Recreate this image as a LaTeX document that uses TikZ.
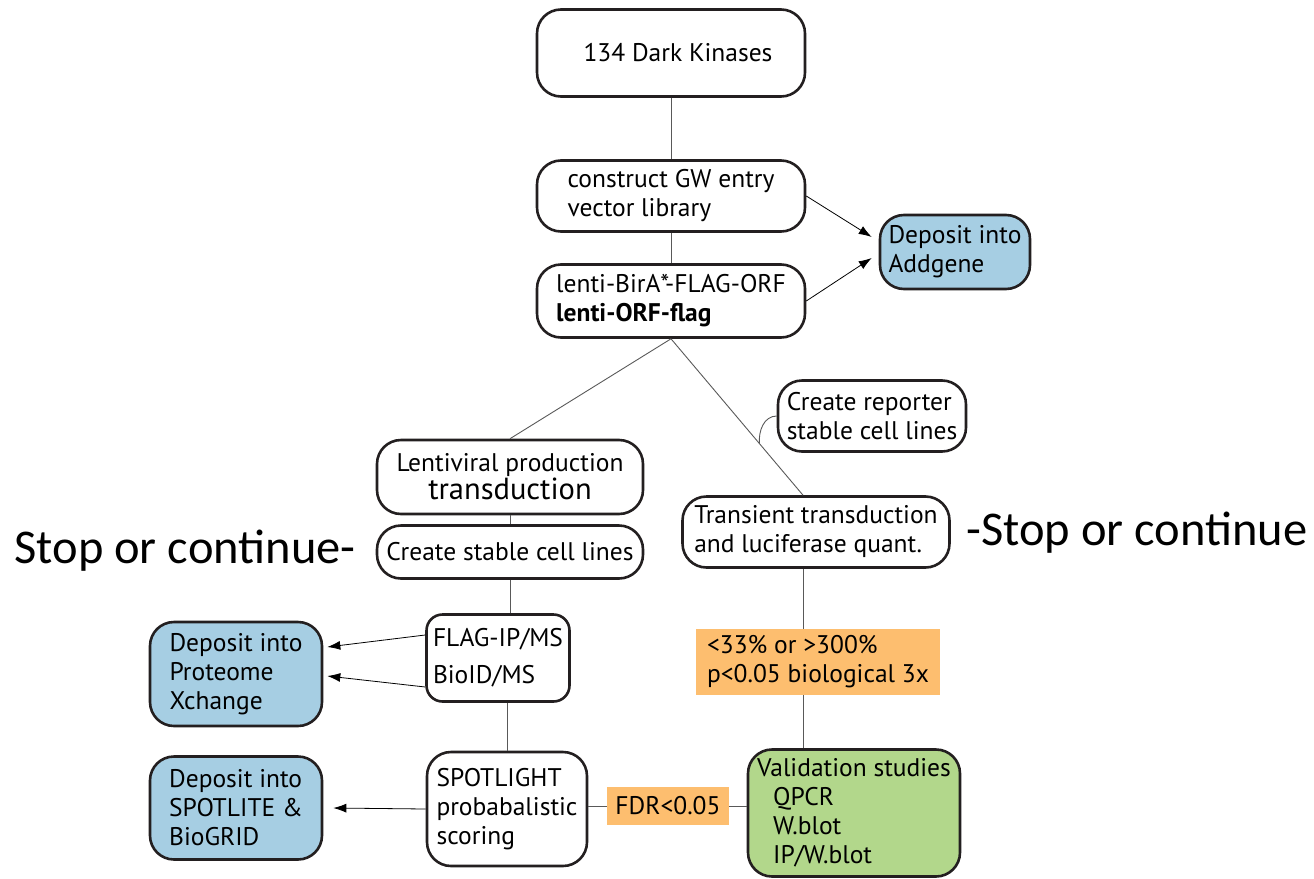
\documentclass[tikz,border=0pt]{standalone}
\usepackage{fontspec}
\setmainfont{PT Sans}
\newfontfamily\calibri{Carlito}
\usepackage{tikz}
\usetikzlibrary{calc,arrows.meta}

\definecolor{depblue}{RGB}{166,206,227}
\definecolor{filtorange}{RGB}{253,190,111}
\definecolor{valgreen}{RGB}{178,215,139}
\definecolor{boxline}{RGB}{35,31,32}

\begin{document}
\begin{tikzpicture}[x=1pt, y=-1pt,
    stepbox/.style={draw=boxline, line width=2.6pt, rounded corners=24pt, fill=white,
                    align=left, inner sep=0pt, font=\fontsize{25.5}{29}\selectfont},
    depbox/.style={stepbox, fill=depblue},
    filtbox/.style={fill=filtorange, align=left, inner sep=0pt, font=\fontsize{25.5}{29}\selectfont},
    link/.style={draw=black!65, line width=0.9pt},
    push/.style={draw=black, line width=0.8pt, -{Latex[length=13pt, width=9pt]}}]
    \useasboundingbox (0,0) rectangle (1314,878);

    % main column
    \node[stepbox, minimum width=268, minimum height=87] (kin) at (671,53) {\hspace*{14pt}134 Dark Kinases};
    \node[stepbox, minimum width=268, minimum height=71] (gw) at (671,196) {construct GW entry\\vector library};
    \node[stepbox, minimum width=268, minimum height=73] (lenti) at (671,301) {lenti-BirA*-FLAG-ORF\\\textbf{lenti-ORF-flag}};
    \node[depbox, minimum width=150, minimum height=74] (addg) at (955,252) {Deposit into\\Addgene};

    % left branch
    \node[stepbox, minimum width=266, minimum height=74, align=center] (lvp) at (510,477) {Lentiviral production\\[-1pt]{\fontsize{30.5}{32}\selectfont transduction}};
    \node[stepbox, minimum width=266, minimum height=53, align=center] (stab) at (510,552) {Create stable cell lines};
    \node[stepbox, minimum width=143, minimum height=87, rounded corners=16pt] (ms) at (498,658) {FLAG-IP/MS\\[8pt]BioID/MS};
    \node[stepbox, minimum width=160, minimum height=114] (spot) at (507,809) {SPOTLIGHT\\probabalistic\\scoring};
    \node[depbox, minimum width=172, minimum height=104] (prx) at (236,674) {Deposit into\\Proteome\\Xchange};
    \node[depbox, minimum width=172, minimum height=103] (spl) at (236,808) {Deposit into\\SPOTLITE \&\\BioGRID};

    % right branch
    \node[stepbox, minimum width=188, minimum height=71] (rep) at (872,416) {Create reporter\\stable cell lines};
    \node[stepbox, minimum width=267, minimum height=71] (trans) at (816,532) {Transient transduction\\and luciferase quant.};
    \node[filtbox, minimum width=244, minimum height=66] (cut) at (818,662) {<33\% or >300\%\\p<0.05 biological 3x};
    \node[stepbox, fill=valgreen, minimum width=212, minimum height=127] (val) at (854,813)
        {Validation studies\\\hspace*{16pt}QPCR\\\hspace*{16pt}W.blot\\\hspace*{16pt}IP/W.blot};
    \node[filtbox, minimum width=122, minimum height=38] (fdr) at (668,806) {FDR<0.05};

    \node[font=\calibri\fontsize{48.5}{50}\selectfont] (stopl) at (185,551) {Stop or continue-};
    \node[font=\calibri\fontsize{48.5}{50}\selectfont] (stopr) at (1137,533) {-Stop or continue};

    \coordinate (tn) at ([xshift=-13pt]trans.north);
    \coordinate (rj) at ($(lenti.south)!0.67!(tn)$);

    \draw[link] (kin) -- (gw);
    \draw[link] (gw) -- (lenti);
    \draw[link] (lenti.south) -- (lvp.north);
    \draw[link] (lenti.south) -- (tn);
    \draw[link] (rep.west) to[out=180, in=95] (rj);
    \draw[link] (lvp) -- (stab);
    \draw[link] (stab.south) -- (stab.south |- ms.north);
    \draw[link] (spot.north) -- (spot.north |- ms.south);
    \draw[link] (tn |- trans.south) -- (tn |- cut.north);
    \draw[link] (tn |- cut.south) -- (tn |- val.north);
    \draw[link] (val.west |- fdr.east) -- (fdr.east);
    \draw[link] (fdr.west) -- (fdr.west -| spot.east);

    \draw[push] (gw.east) -- ([xshift=-7pt, yshift=15pt]addg.west);
    \draw[push] (lenti.east) -- ([xshift=-7pt, yshift=-6pt]addg.west);
    \draw[push] ([yshift=23pt]ms.west) -- ([xshift=4pt, yshift=27pt]prx.east);
    \draw[push] ([yshift=-29pt]ms.west) -- ([xshift=4pt, yshift=-2pt]prx.east);
    \draw[push] (spot.west) -- ([xshift=10pt]spl.east);
\end{tikzpicture}
\end{document}
